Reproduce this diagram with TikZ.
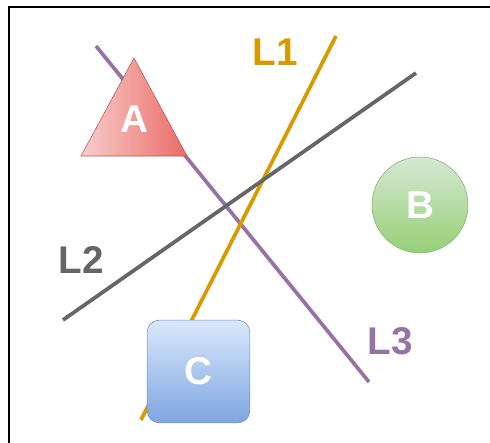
\documentclass[tikz,border=0pt]{standalone}
\usepackage{fontspec}
\setmainfont{Liberation Sans}
\definecolor{lineone}{HTML}{D79B00}
\definecolor{linetwo}{HTML}{666666}
\definecolor{linethree}{HTML}{9673A6}
\definecolor{redlight}{HTML}{F8CECC}
\definecolor{reddark}{HTML}{EA6B66}
\definecolor{redline}{HTML}{B85450}
\definecolor{greenlight}{HTML}{D5E8D4}
\definecolor{greendark}{HTML}{97D077}
\definecolor{greenline}{HTML}{82B366}
\definecolor{bluelight}{HTML}{DAE8FC}
\definecolor{bluedark}{HTML}{7EA6E0}
\definecolor{blueline}{HTML}{6C8EBF}
\tikzset{
  lbl/.style={inner sep=0.75pt, font=\fontsize{29}{34}\selectfont\bfseries},
  letter/.style={lbl, text=white},
  thick line/.style={line width=2.8pt}
}
\begin{document}
\begin{tikzpicture}[x=0.75pt,y=0.75pt,yscale=-1,xscale=1]
    \useasboundingbox (0,0) rectangle (490,443);

    %Frame
    \draw [line width=1.5pt]  (9,443) -- (9,7) -- (490,7) ;

    %Line end points
    \coordinate (l1a) at (336,36);
    \coordinate (l1b) at (141,420);
    \coordinate (l2a) at (416,73);
    \coordinate (l2b) at (63,320);
    \coordinate (l3a) at (96,46);
    \coordinate (l3b) at (369,382);

    %Straight Lines
    \draw [thick line, color=linethree]  (l3a) -- (l3b) ;
    \draw [thick line, color=lineone]  (l1a) -- (l1b) ;
    \draw [thick line, color=linetwo]  (l2a) -- (l2b) ;

    %Shape: Triangle
    \draw [color=redline, left color=redlight, right color=reddark]  (134,58) -- (187,156) -- (81,156) -- cycle ;
    %Shape: Circle
    \node (B) [circle, draw=greenline, top color=greenlight, bottom color=greendark, minimum size=72pt, inner sep=0pt] at (420,205) {};
    %Shape: Rounded Square
    \node (C) [draw=blueline, rounded corners=9pt, top color=bluelight, bottom color=bluedark, minimum size=77pt, inner sep=0pt] at (198.5,371.5) {};

    % Text Node
    \node (A) [letter] at (134,119) {A};
    % Text Node
    \node (Bt) [letter] at (B) {B};
    % Text Node
    \node (Ct) [letter] at (C) {C};
    % Text Node
    \node (L1) [lbl, text=lineone] at (275,52) {L1};
    % Text Node
    \node (L2) [lbl, text=linetwo] at (81,260) {L2};
    % Text Node
    \node (L3) [lbl, text=linethree] at (390,341) {L3};

\end{tikzpicture}
\end{document}
